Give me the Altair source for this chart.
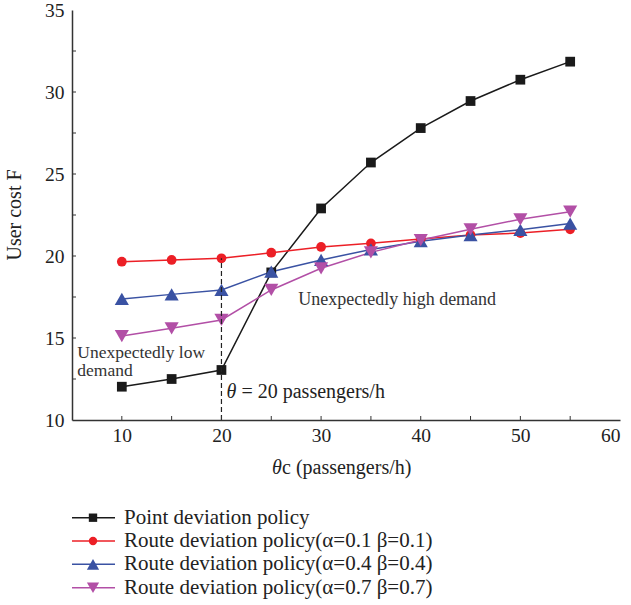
import altair as alt
import pandas as pd

FONT = "Liberation Serif"

# ---- data ----
theta_c = [10, 15, 20, 25, 30, 35, 40, 45, 50, 55]
series_names = [
    "Point deviation policy",
    "Route deviation policy(α=0.1 β=0.1)",
    "Route deviation policy(α=0.4 β=0.4)",
    "Route deviation policy(α=0.7 β=0.7)",
]
point_dev = [12.03, 12.5, 13.05, 19.0, 22.9, 25.7, 27.8, 29.45, 30.75, 31.85]
route_01 = [19.65, 19.76, 19.86, 20.2, 20.55, 20.77, 21.04, 21.28, 21.4, 21.63]
route_04 = [17.38, 17.66, 17.93, 19.04, 19.76, 20.4, 20.9, 21.28, 21.6, 21.98]
route_07 = [15.12, 15.59, 16.1, 17.93, 19.25, 20.22, 20.97, 21.63, 22.24, 22.7]

colors = ["#1a1a1a", "#ec1f26", "#3a52a3", "#b24fa6"]
shapes = ["square", "circle", "triangle-up", "triangle-down"]
small_marker_series = series_names[:2]
triangle_series = series_names[2:]

x_label_values = [10, 20, 30, 40, 50, 60]
y_label_values = [10, 15, 20, 25, 30, 35]
x_minor_ticks = [10, 15, 20, 25, 30, 35, 40, 45, 50, 55]
y_minor_ticks = [12.5, 15, 17.5, 20, 22.5, 25, 27.5, 30, 32.5]

threshold_theta = [20]
threshold_low = [10]
threshold_high = [19.86]

rows = []
for name, vals in zip(series_names, [point_dev, route_01, route_04, route_07]):
    for t, v in zip(theta_c, vals):
        rows.append({"series": name, "theta": t, "cost": v})
df = pd.DataFrame(rows)

color_scale = alt.Scale(domain=series_names, range=colors)
shape_scale = alt.Scale(domain=series_names, range=shapes)
xs = alt.Scale(domain=[5, 60], nice=False, zero=False)
ys = alt.Scale(domain=[10, 35], nice=False, zero=False)

x_axis = alt.Axis(values=x_label_values, ticks=False, grid=False, title=None,
                  domainColor="#333333", domainWidth=1.5, labelFont=FONT,
                  labelFontSize=19.5, labelColor="#222222", labelPadding=6)
y_axis = alt.Axis(values=y_label_values, ticks=False, grid=False, title=None,
                  domainColor="#333333", domainWidth=1.5, labelFont=FONT,
                  labelFontSize=19.5, labelColor="#222222", labelPadding=8)


def X(field="theta:Q"):
    return alt.X(field, scale=xs, axis=x_axis)


def Y(field="cost:Q"):
    return alt.Y(field, scale=ys, axis=y_axis)


col = alt.Color("series:N", scale=color_scale, legend=None)
shp = alt.Shape("series:N", scale=shape_scale, legend=None)

lines = alt.Chart(df).mark_line(strokeWidth=1.5).encode(x=X(), y=Y(), color=col)
points_a = alt.Chart(df).transform_filter(
    alt.FieldOneOfPredicate(field="series", oneOf=small_marker_series)
).mark_point(filled=True, opacity=1, size=95).encode(x=X(), y=Y(), color=col, shape=shp)
points_b = alt.Chart(df).transform_filter(
    alt.FieldOneOfPredicate(field="series", oneOf=triangle_series)
).mark_point(filled=True, opacity=1, size=200).encode(x=X(), y=Y(), color=col, shape=shp)

ytick_df = pd.DataFrame({"cost": y_minor_ticks})
xtick_df = pd.DataFrame({"theta": x_minor_ticks})
yticks = alt.Chart(ytick_df).mark_rule(color="#333333", strokeWidth=1).encode(
    y=Y(), x=alt.value(0), x2=alt.value(4))
xticks = alt.Chart(xtick_df).mark_rule(color="#333333", strokeWidth=1).encode(
    x=X(), y=alt.value(410), y2=alt.value(406))

thr_df = pd.DataFrame({"theta": threshold_theta, "cost": threshold_low, "cost2": threshold_high})
dashed = alt.Chart(thr_df).mark_rule(color="#222222", strokeWidth=1.2, strokeDash=[5, 3]).encode(
    x=X(), y=Y(), y2="cost2:Q")

ann_hi = pd.DataFrame({"theta": [27.7], "cost": [17.32], "label": ["Unexpectedly high demand"]})
ann_lo = pd.DataFrame({"theta": [5.53, 5.53], "cost": [14.1, 12.98],
                       "label": ["Unexpectedly low", "demand"]})
ann1 = alt.Chart(ann_hi).mark_text(font=FONT, fontSize=18, align="left", baseline="middle",
                                   color="#333333").encode(x=X(), y=Y(), text="label:N")
ann2 = alt.Chart(ann_lo).mark_text(font=FONT, fontSize=17.5, align="left", baseline="middle",
                                   color="#333333").encode(x=X(), y=Y(), text="label:N")

theta_df = pd.DataFrame({"theta": [20], "cost": [11.73]})
theta_sym = alt.Chart(theta_df).mark_text(font=FONT, fontSize=20, fontStyle="italic", align="left",
                                          baseline="middle", color="#222222", dx=5).encode(
    x=X(), y=Y(), text=alt.value("θ"))
theta_rest = alt.Chart(theta_df).mark_text(font=FONT, fontSize=20, align="left",
                                           baseline="middle", color="#222222", dx=20).encode(
    x=X(), y=Y(), text=alt.value("= 20 passengers/h"))

xtitle_a = alt.Chart(theta_df).mark_text(font=FONT, fontSize=20, fontStyle="italic", align="left",
                                         baseline="middle", color="#222222").encode(
    x=alt.value(200), y=alt.value(458), text=alt.value("θ"))
xtitle_b = alt.Chart(theta_df).mark_text(font=FONT, fontSize=20, align="left",
                                         baseline="middle", color="#222222").encode(
    x=alt.value(210), y=alt.value(458), text=alt.value("c (passengers/h)"))
ytitle = alt.Chart(theta_df).mark_text(font=FONT, fontSize=20, angle=270, align="center",
                                       baseline="middle", color="#222222").encode(
    x=alt.value(-57), y=alt.value(205), text=alt.value("User cost F"))

main = alt.layer(lines, points_a, points_b, dashed, yticks, xticks, ann1, ann2,
                 theta_sym, theta_rest, xtitle_a, xtitle_b, ytitle)

# ---- legend (drawn below the plot) ----
leg_df = pd.DataFrame({"series": series_names, "row": list(range(len(series_names)))})
leg_y = alt.Y("row:Q", scale=alt.Scale(domain=[0, 3], range=[507.7, 577.7]), axis=None)
leg_rule = alt.Chart(leg_df).mark_rule(strokeWidth=1.5).encode(
    y=leg_y, x=alt.value(0), x2=alt.value(43), color=col)
leg_pts_a = alt.Chart(leg_df).transform_filter(
    alt.FieldOneOfPredicate(field="series", oneOf=small_marker_series)
).mark_point(filled=True, opacity=1, size=70).encode(
    y=leg_y, x=alt.value(21), color=col, shape=shp)
leg_pts_b = alt.Chart(leg_df).transform_filter(
    alt.FieldOneOfPredicate(field="series", oneOf=triangle_series)
).mark_point(filled=True, opacity=1, size=150).encode(
    y=leg_y, x=alt.value(21), color=col, shape=shp)
leg_txt = alt.Chart(leg_df).mark_text(font=FONT, fontSize=21, align="left", baseline="middle",
                                      color="#222222").encode(
    y=leg_y, x=alt.value(52), text="series:N")
legend = alt.layer(leg_rule, leg_pts_a, leg_pts_b, leg_txt)

chart = alt.layer(main, legend).resolve_scale(y="independent").properties(
    width=548, height=410,
    autosize=alt.AutoSizeParams(type="none"),
    padding={"left": 72, "top": 10, "right": 11, "bottom": 185},
).configure_view(stroke=None)

chart.save("out.html", embed_options={"renderer": "svg", "actions": False})
